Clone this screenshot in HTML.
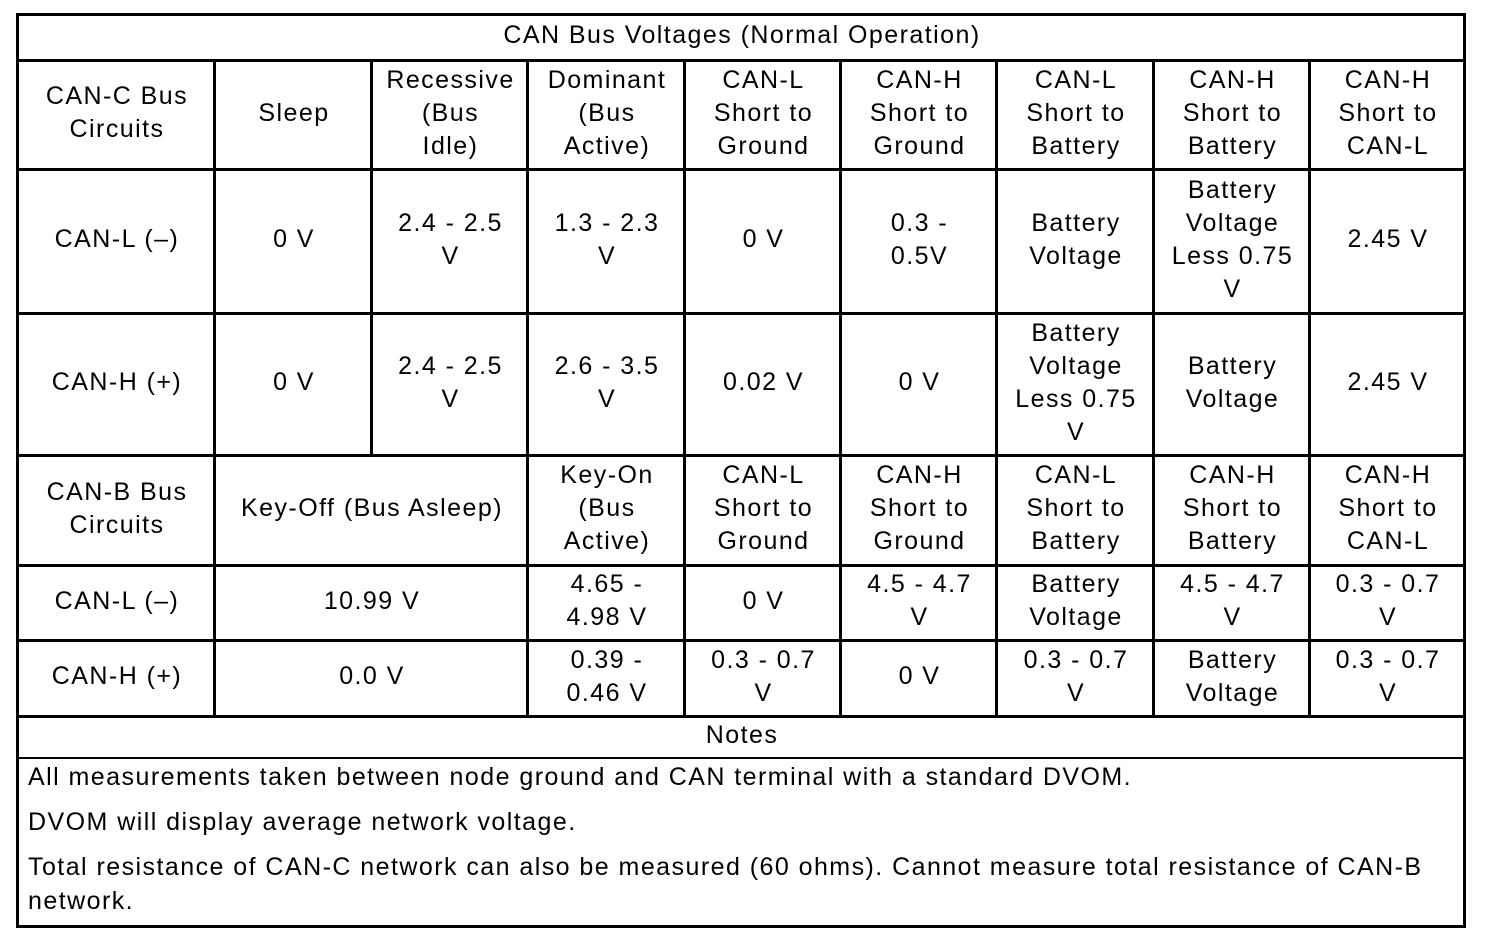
<!DOCTYPE html>
<html><head><meta charset="utf-8"><style>
html,body{margin:0;padding:0;background:#fff;width:1504px;height:936px;overflow:hidden}
body{position:relative;font-family:"Liberation Sans",Arial,sans-serif;font-size:25px;color:#000;letter-spacing:1.45px}
.h{position:absolute;height:3px;background:#000}
.v{position:absolute;width:3px;background:#000}
.c{position:absolute;display:flex;align-items:center;justify-content:center;text-align:center;line-height:33px;margin-top:-2px;padding-left:1px}
.n{position:absolute;left:28px;line-height:34px}
</style></head><body>
<div class="h" style="left:16px;width:1450px;top:13px"></div>
<div class="h" style="left:16px;width:1450px;top:59px"></div>
<div class="h" style="left:16px;width:1450px;top:168px"></div>
<div class="h" style="left:16px;width:1450px;top:312px"></div>
<div class="h" style="left:16px;width:1450px;top:454px"></div>
<div class="h" style="left:16px;width:1450px;top:564px"></div>
<div class="h" style="left:16px;width:1450px;top:639px"></div>
<div class="h" style="left:16px;width:1450px;top:715px"></div>
<div class="h" style="left:16px;width:1450px;top:757px;height:2px"></div>
<div class="h" style="left:16px;width:1450px;top:925px"></div>
<div class="v" style="left:16px;top:13px;height:915px"></div>
<div class="v" style="left:1463px;top:13px;height:915px"></div>
<div class="v" style="left:213px;top:59px;height:659px"></div>
<div class="v" style="left:370px;top:59px;height:398px"></div>
<div class="v" style="left:526px;top:59px;height:659px"></div>
<div class="v" style="left:683px;top:59px;height:659px"></div>
<div class="v" style="left:839px;top:59px;height:659px"></div>
<div class="v" style="left:995px;top:59px;height:659px"></div>
<div class="v" style="left:1152px;top:59px;height:659px"></div>
<div class="v" style="left:1308px;top:59px;height:659px"></div>

<div class="c" style="left:19px;width:1444px;top:16px;height:43px">CAN Bus Voltages (Normal Operation)</div>

<div class="c" style="left:19px;width:194px;top:62px;height:106px">CAN-C Bus<br>Circuits</div>
<div class="c" style="left:216px;width:154px;top:62px;height:106px">Sleep</div>
<div class="c" style="left:373px;width:153px;top:62px;height:106px">Recessive<br>(Bus<br>Idle)</div>
<div class="c" style="left:529px;width:154px;top:62px;height:106px">Dominant<br>(Bus<br>Active)</div>
<div class="c" style="left:686px;width:153px;top:62px;height:106px">CAN-L<br>Short to<br>Ground</div>
<div class="c" style="left:842px;width:153px;top:62px;height:106px">CAN-H<br>Short to<br>Ground</div>
<div class="c" style="left:998px;width:154px;top:62px;height:106px">CAN-L<br>Short to<br>Battery</div>
<div class="c" style="left:1155px;width:153px;top:62px;height:106px">CAN-H<br>Short to<br>Battery</div>
<div class="c" style="left:1311px;width:152px;top:62px;height:106px">CAN-H<br>Short to<br>CAN-L</div>

<div class="c" style="left:19px;width:194px;top:171px;height:141px">CAN-L (–)</div>
<div class="c" style="left:216px;width:154px;top:171px;height:141px">0 V</div>
<div class="c" style="left:373px;width:153px;top:171px;height:141px">2.4 - 2.5<br>V</div>
<div class="c" style="left:529px;width:154px;top:171px;height:141px">1.3 - 2.3<br>V</div>
<div class="c" style="left:686px;width:153px;top:171px;height:141px">0 V</div>
<div class="c" style="left:842px;width:153px;top:171px;height:141px">0.3 -<br>0.5V</div>
<div class="c" style="left:998px;width:154px;top:171px;height:141px">Battery<br>Voltage</div>
<div class="c" style="left:1155px;width:153px;top:171px;height:141px">Battery<br>Voltage<br>Less 0.75<br>V</div>
<div class="c" style="left:1311px;width:152px;top:171px;height:141px">2.45 V</div>

<div class="c" style="left:19px;width:194px;top:315px;height:139px">CAN-H (+)</div>
<div class="c" style="left:216px;width:154px;top:315px;height:139px">0 V</div>
<div class="c" style="left:373px;width:153px;top:315px;height:139px">2.4 - 2.5<br>V</div>
<div class="c" style="left:529px;width:154px;top:315px;height:139px">2.6 - 3.5<br>V</div>
<div class="c" style="left:686px;width:153px;top:315px;height:139px">0.02 V</div>
<div class="c" style="left:842px;width:153px;top:315px;height:139px">0 V</div>
<div class="c" style="left:998px;width:154px;top:315px;height:139px">Battery<br>Voltage<br>Less 0.75<br>V</div>
<div class="c" style="left:1155px;width:153px;top:315px;height:139px">Battery<br>Voltage</div>
<div class="c" style="left:1311px;width:152px;top:315px;height:139px">2.45 V</div>

<div class="c" style="left:19px;width:194px;top:457px;height:107px">CAN-B Bus<br>Circuits</div>
<div class="c" style="left:216px;width:310px;top:457px;height:107px">Key-Off (Bus Asleep)</div>
<div class="c" style="left:529px;width:154px;top:457px;height:107px">Key-On<br>(Bus<br>Active)</div>
<div class="c" style="left:686px;width:153px;top:457px;height:107px">CAN-L<br>Short to<br>Ground</div>
<div class="c" style="left:842px;width:153px;top:457px;height:107px">CAN-H<br>Short to<br>Ground</div>
<div class="c" style="left:998px;width:154px;top:457px;height:107px">CAN-L<br>Short to<br>Battery</div>
<div class="c" style="left:1155px;width:153px;top:457px;height:107px">CAN-H<br>Short to<br>Battery</div>
<div class="c" style="left:1311px;width:152px;top:457px;height:107px">CAN-H<br>Short to<br>CAN-L</div>

<div class="c" style="left:19px;width:194px;top:567px;height:72px">CAN-L (–)</div>
<div class="c" style="left:216px;width:310px;top:567px;height:72px">10.99 V</div>
<div class="c" style="left:529px;width:154px;top:567px;height:72px">4.65 -<br>4.98 V</div>
<div class="c" style="left:686px;width:153px;top:567px;height:72px">0 V</div>
<div class="c" style="left:842px;width:153px;top:567px;height:72px">4.5 - 4.7<br>V</div>
<div class="c" style="left:998px;width:154px;top:567px;height:72px">Battery<br>Voltage</div>
<div class="c" style="left:1155px;width:153px;top:567px;height:72px">4.5 - 4.7<br>V</div>
<div class="c" style="left:1311px;width:152px;top:567px;height:72px">0.3 - 0.7<br>V</div>

<div class="c" style="left:19px;width:194px;top:642px;height:73px">CAN-H (+)</div>
<div class="c" style="left:216px;width:310px;top:642px;height:73px">0.0 V</div>
<div class="c" style="left:529px;width:154px;top:642px;height:73px">0.39 -<br>0.46 V</div>
<div class="c" style="left:686px;width:153px;top:642px;height:73px">0.3 - 0.7<br>V</div>
<div class="c" style="left:842px;width:153px;top:642px;height:73px">0 V</div>
<div class="c" style="left:998px;width:154px;top:642px;height:73px">0.3 - 0.7<br>V</div>
<div class="c" style="left:1155px;width:153px;top:642px;height:73px">Battery<br>Voltage</div>
<div class="c" style="left:1311px;width:152px;top:642px;height:73px">0.3 - 0.7<br>V</div>

<div class="c" style="left:19px;width:1444px;top:718px;height:39px">Notes</div>
<div class="n" style="top:760px">All measurements taken between node ground and CAN terminal with a standard DVOM.</div>
<div class="n" style="top:805px">DVOM will display average network voltage.</div>
<div class="n" style="top:850px">Total resistance of CAN-C network can also be measured (60 ohms). Cannot measure total resistance of CAN-B<br>network.</div>
</body></html>
